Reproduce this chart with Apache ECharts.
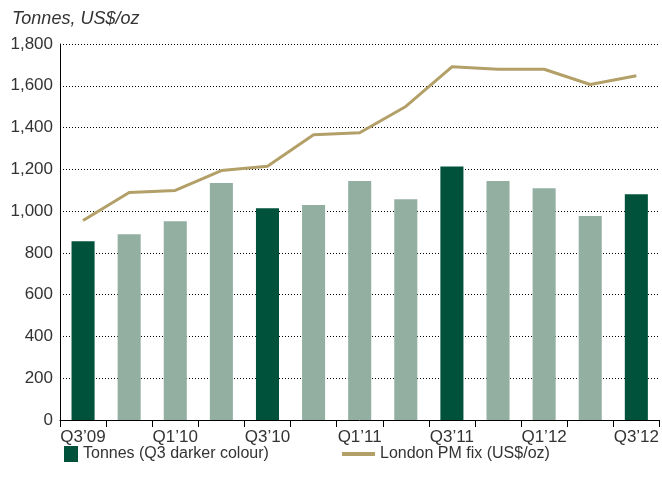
<!DOCTYPE html>
<html>
<head>
<meta charset="utf-8">
<script src="https://cdn.jsdelivr.net/npm/echarts@6/dist/echarts.min.js"></script>
<style>
  html, body { margin: 0; padding: 0; background: #fff; }
  #chart { width: 662px; height: 493px; }
</style>
</head>
<body>
<div id="chart"></div>
<script>
var quarters = ['Q3’09', 'Q4’09', 'Q1’10', 'Q2’10', 'Q3’10', 'Q4’10', 'Q1’11',
  'Q2’11', 'Q3’11', 'Q4’11', 'Q1’12', 'Q2’12', 'Q3’12'];
var tonnes = [856, 889, 951, 1134, 1014, 1029, 1144, 1057, 1213, 1144, 1110, 976, 1081];
var pmFix = [955, 1089, 1099, 1194, 1215, 1366, 1375, 1501, 1691, 1679, 1679, 1606, 1648];
var yTicks = [0, 200, 400, 600, 800, 1000, 1200, 1400, 1600, 1800];

var darkGreen = '#00533a';
var lightGreen = '#93afa2';
var gold = '#b3a068';
var font = '"Liberation Sans", Arial, sans-serif';

var barData = [];
for (var i = 0; i < quarters.length; i++) {
  barData.push({
    value: tonnes[i],
    itemStyle: { color: quarters[i].indexOf('Q3') === 0 ? darkGreen : lightGreen }
  });
}

var option = {
  animation: false,
  textStyle: { fontFamily: font },
  title: {
    text: 'Tonnes, US$/oz',
    left: 7,
    top: 5,
    textStyle: { fontSize: 18, fontStyle: 'italic', fontWeight: 'normal', color: '#333', fontFamily: font }
  },
  grid: { left: 60, right: 2, top: 44, bottom: 73, containLabel: false },
  legend: [{
    data: [{ name: 'Tonnes (Q3 darker colour)', icon: 'rect' }],
    left: 59,
    top: 441,
    itemWidth: 14,
    itemHeight: 16,
    itemGap: 10,
    textStyle: { fontSize: 16, color: '#333', fontFamily: font }
  }, {
    data: [{ name: 'London PM fix (US$/oz)', icon: 'rect', itemStyle: { color: gold } }],
    left: 337,
    top: 441,
    itemWidth: 33,
    itemHeight: 4,
    textStyle: { fontSize: 16, color: '#333', fontFamily: font, lineHeight: 16 }
  }],
  xAxis: {
    type: 'category',
    data: quarters,
    axisLine: { lineStyle: { color: '#000', width: 1 } },
    axisTick: { show: true, interval: 0, length: 7, lineStyle: { color: '#000' } },
    axisLabel: { interval: 1, fontSize: 17, color: '#333', margin: 9, fontFamily: font }
  },
  yAxis: {
    type: 'value',
    min: yTicks[0],
    max: yTicks[yTicks.length - 1],
    interval: yTicks[1] - yTicks[0],
    axisLine: { show: true, lineStyle: { color: '#000', width: 1 } },
    axisTick: { show: false },
    axisLabel: {
      fontSize: 17, color: '#333', margin: 7, fontFamily: font,
      formatter: function (v) { return v.toLocaleString('en-US'); }
    },
    splitLine: { show: true, lineStyle: { color: '#000', type: [1, 2], width: 1.2 } }
  },
  series: [{
    name: 'Tonnes (Q3 darker colour)',
    type: 'bar',
    data: barData,
    barWidth: '50%',
    itemStyle: { color: darkGreen }
  }, {
    name: 'London PM fix (US$/oz)',
    type: 'line',
    data: pmFix,
    symbol: 'none',
    lineStyle: { color: gold, width: 3 },
    itemStyle: { color: gold }
  }]
};

echarts.init(document.getElementById('chart')).setOption(option);
</script>
</body>
</html>
